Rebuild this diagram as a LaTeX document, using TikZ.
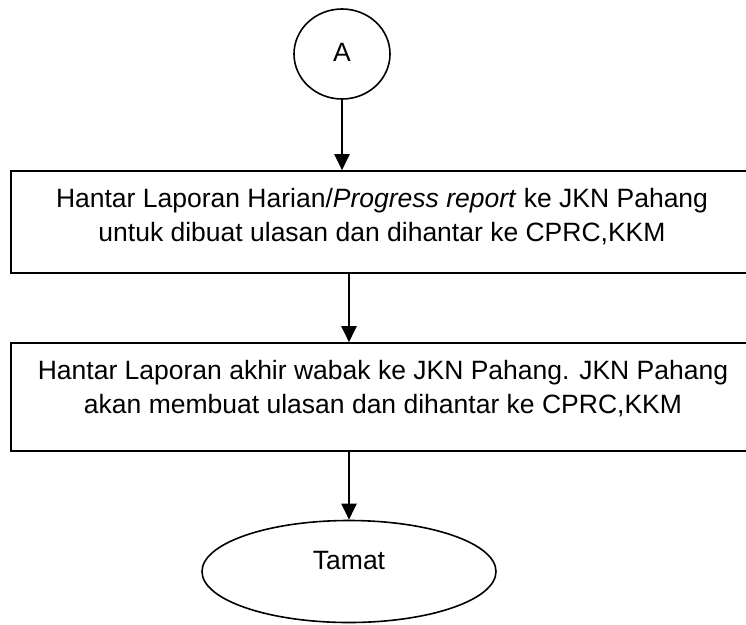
\documentclass[tikz,border=0pt]{standalone}
\usepackage{fontspec}
\setmainfont{Liberation Sans}
\usetikzlibrary{shapes.geometric,arrows.meta}
\tikzset{
  boxshape/.style={draw, line width=1.6pt, rectangle, minimum width=744pt, inner sep=0pt},
  boxtext/.style={align=center, inner sep=0pt, font=\fontsize{26.5}{34}\selectfont},
  ovalshape/.style={draw, line width=1.6pt, ellipse, inner sep=0pt, font=\fontsize{26.5}{31}\selectfont},
  arr/.style={line width=2pt, -{Triangle[length=16pt,width=15pt]}}
}
\begin{document}
\begin{tikzpicture}[x=1pt,y=-1pt]
\useasboundingbox (0,0) rectangle (746,624);
\node[ovalshape, minimum width=96pt, minimum height=90pt, text depth=4pt] (A) at (342,54) {A};
\node[boxshape, minimum height=102pt] (b1) at (383,222) {};
\node[boxtext] (b1t) at (382,216.3) {Hantar Laporan Harian/\textit{Progress report} ke JKN Pahang\\untuk dibuat ulasan dan dihantar ke CPRC,KKM};
\node[boxshape, minimum height=108pt] (b2) at (383,397) {};
\node[boxtext] (b2t) at (383,388.3) {Hantar Laporan akhir wabak ke JKN Pahang. JKN Pahang\\akan membuat ulasan dan dihantar ke CPRC,KKM};
\node[ovalshape, minimum width=294pt, minimum height=102pt, text depth=23pt] (T) at (349,571.5) {Tamat};
\draw[arr] (A.south) -- (A.south |- b1.north);
\draw[arr] (b1.south -| T.north) -- (b2.north -| T.north);
\draw[arr] (b2.south -| T.north) -- (T.north);
\end{tikzpicture}
\end{document}
